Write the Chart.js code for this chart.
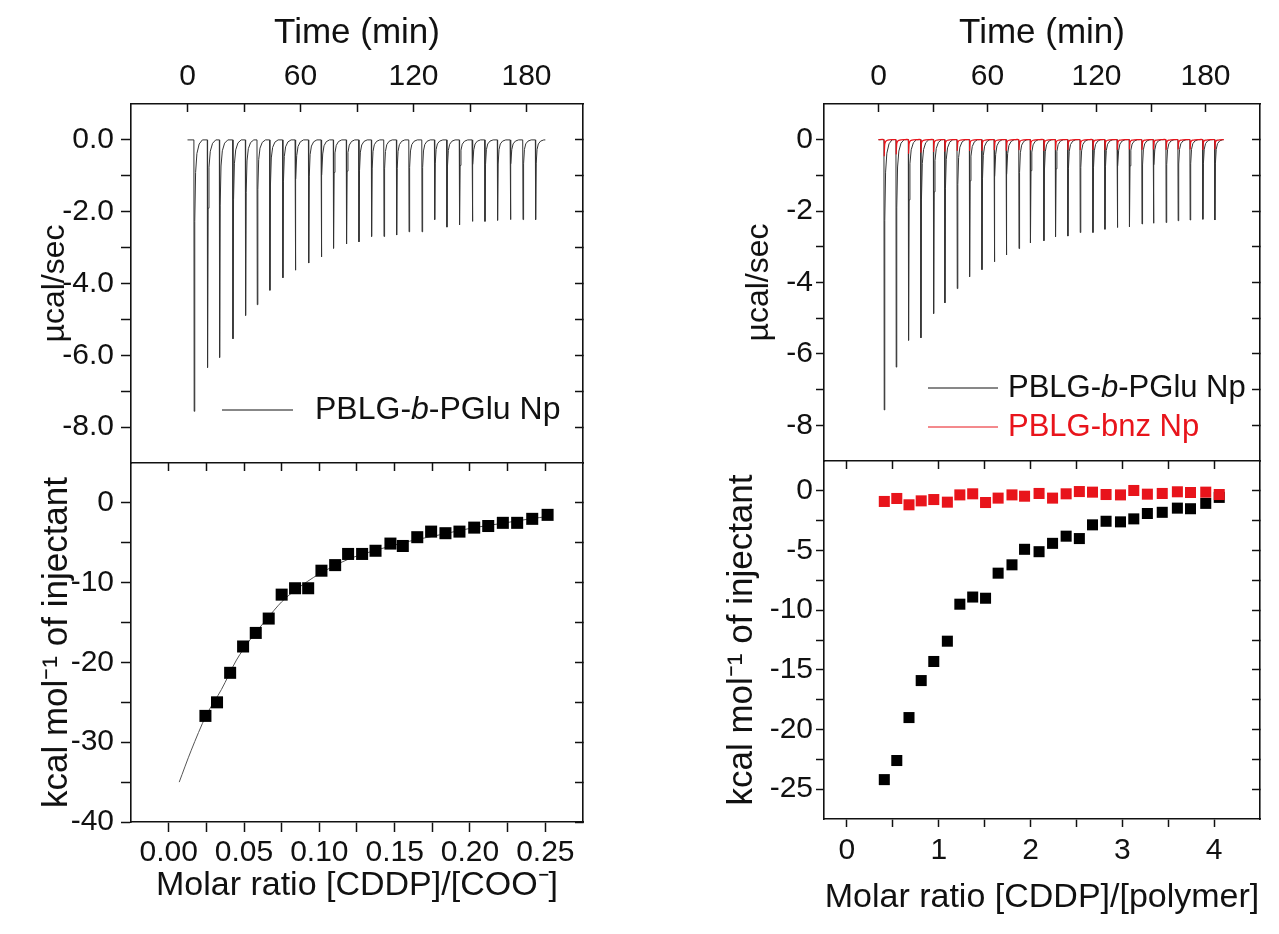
<!DOCTYPE html>
<html lang="en">
<head>
<meta charset="utf-8">
<title>ITC - PBLG-b-PGlu Np / PBLG-bnz Np</title>
<script src="https://cdn.jsdelivr.net/npm/chart.js@4.4.1/dist/chart.umd.min.js"></script>
<style>
    html, body { margin: 0; padding: 0; background: #fff; }
    #figure { position: relative; width: 1279px; height: 934px; overflow: hidden; }
    #figure canvas { position: absolute; left: 0; top: 0; }
</style>
</head>
<body>
<div id="figure">
    <canvas id="gauche-haut" width="1279" height="934"></canvas>
    <canvas id="gauche-bas" width="1279" height="934"></canvas>
    <canvas id="droite-haut" width="1279" height="934"></canvas>
    <canvas id="droite-bas" width="1279" height="934"></canvas>
</div>
<script>
// Données (ITC, CDDP injecté dans les nanoparticules)

// --- Thermogramme gauche : PBLG-b-PGlu Np ---
const leftInjTimes = [3.4, 10.5, 16.9, 24.0, 30.7, 36.9, 43.6, 50.5, 57.1, 64.2, 70.9, 77.4, 84.3, 90.9,
    97.6, 104.2, 110.9, 117.5, 124.4, 131.1, 137.6, 144.3, 151.1, 157.8, 164.5, 171.3, 178.0, 184.7];
const leftPeaks = [-7.56, -6.34, -6.06, -5.54, -4.89, -4.59, -4.19, -3.84, -3.63, -3.43, -3.26, -3.02, -2.90, -2.84,
    -2.69, -2.69, -2.65, -2.56, -2.56, -2.22, -2.43, -2.37, -2.27, -2.27, -2.24, -2.22, -2.22, -2.22];

// --- Thermogrammes droite ---
const rightInjTimes = [3.0, 9.6, 16.4, 23.2, 30.2, 36.4, 43.2, 50.0, 56.8, 63.6, 70.2, 77.2, 83.5, 90.9,
    97.3, 104.1, 110.9, 117.9, 124.5, 131.3, 138.0, 144.9, 151.2, 158.2, 164.8, 171.4, 178.4, 185.0];
const rightPeaks = [-7.57, -6.37, -5.62, -5.55, -4.87, -4.57, -4.17, -3.84, -3.64, -3.42, -3.23, -3.05, -2.89, -2.83,
    -2.72, -2.70, -2.60, -2.60, -2.51, -2.46, -2.44, -2.36, -2.34, -2.32, -2.27, -2.25, -2.23, -2.25];
const redPeaks = [-0.45, -0.40, -0.38, -0.35, -0.33, -0.32, -0.30, -0.30, -0.30, -0.28, -0.30, -0.28, -0.28, -0.30,
    -0.28, -0.27, -0.28, -0.27, -0.28, -0.27, -0.26, -0.27, -0.26, -0.27, -0.26, -0.26, -0.27, -0.26];

// Forme d'un pic d'injection (décalage en min, fraction du pic)
const spikeOffsets = [0, 0.15, 0.45, 0.9, 1.6, 2.8, 4.5];
const spikeShape = [0, 1, 0.3, 0.12, 0.05, 0.015, 0];

// --- Chaleurs intégrées gauche ---
const leftMolarRatio = [0.0244, 0.0321, 0.0408, 0.0494, 0.0578, 0.0664, 0.0750, 0.0839, 0.0926, 0.1014, 0.1105,
    0.1191, 0.1284, 0.1373, 0.1472, 0.1554, 0.1650, 0.1742, 0.1837, 0.1930, 0.2028, 0.2121, 0.2218, 0.2313,
    0.2413, 0.2515];
const leftHeat = [-26.7, -25.0, -21.3, -18.0, -16.3, -14.5, -11.5, -10.7, -10.7, -8.5, -7.8, -6.4, -6.4, -6.0,
    -5.1, -5.4, -4.3, -3.6, -3.8, -3.6, -3.1, -2.9, -2.5, -2.5, -2.0, -1.5];
const fitX = [0.007, 0.015, 0.025, 0.035, 0.045, 0.055, 0.065, 0.075, 0.085, 0.100, 0.120, 0.140, 0.160,
    0.180, 0.200, 0.220, 0.240, 0.252];
const fitY = [-35.0, -31.0, -26.6, -23.4, -19.7, -16.9, -14.6, -12.4, -10.8, -8.9, -7.0, -5.8, -4.8,
    -4.0, -3.2, -2.6, -2.0, -1.7];

// --- Chaleurs intégrées droite ---
const rightMolarRatio = [0.407, 0.543, 0.676, 0.809, 0.946, 1.094, 1.230, 1.370, 1.510, 1.647, 1.798, 1.935,
    2.093, 2.240, 2.388, 2.532, 2.675, 2.823, 2.980, 3.125, 3.273, 3.435, 3.600, 3.743, 3.909, 4.056];
const rightBlackHeat = [-24.2, -22.6, -19.0, -15.9, -14.3, -12.6, -9.5, -8.9, -9.0, -6.9, -6.2, -4.9, -5.1,
    -4.4, -3.8, -4.0, -2.85, -2.55, -2.6, -2.35, -1.9, -1.8, -1.45, -1.5, -1.05, -0.55];
const rightRedHeat = [-0.89, -0.64, -1.17, -0.84, -0.73, -0.95, -0.34, -0.25, -0.98, -0.61, -0.34, -0.45, -0.22,
    -0.61, -0.25, -0.06, -0.11, -0.31, -0.34, 0.03, -0.28, -0.22, -0.08, -0.14, -0.11, -0.31];

// --- Graduations ---
const timeTicks = [0, 30, 60, 90, 120, 150, 180];
const timeLabels = [0, 60, 120, 180];
const powerTicks = [-8, -7, -6, -5, -4, -3, -2, -1, 0];
const powerLabels = [-8, -6, -4, -2, 0];
const leftRatioTicks = [0, 0.025, 0.05, 0.075, 0.1, 0.125, 0.15, 0.175, 0.2, 0.225, 0.25];
const leftRatioLabels = [0, 0.05, 0.1, 0.15, 0.2, 0.25];
const leftHeatTicks = [-40, -35, -30, -25, -20, -15, -10, -5, 0];
const leftHeatLabels = [-40, -30, -20, -10, 0];
const rightRatioTicks = [0, 0.5, 1, 1.5, 2, 2.5, 3, 3.5, 4];
const rightRatioLabels = [0, 1, 2, 3, 4];
const rightHeatTicks = [-25, -22.5, -20, -17.5, -15, -12.5, -10, -7.5, -5, -2.5, 0];
const rightHeatLabels = [-25, -20, -15, -10, -5, 0];

const FONT = "'Liberation Sans', Arial, Helvetica, sans-serif";
const INK = '#111';
const RED = '#e8141b';
const TICK_SIZE = 30;

/**
 * Construit la courbe du thermogramme à partir des pics lus
 */
function buildThermogram(times, peaks, endTime) {
    const pts = [{ x: 0, y: 0 }];
    times.forEach((t, i) => {
        spikeOffsets.forEach((dt, k) => pts.push({ x: t + dt, y: peaks[i] * spikeShape[k] }));
    });
    pts.push({ x: endTime, y: 0 });
    return pts;
}

function toPoints(xs, ys) {
    return xs.map((x, i) => ({ x: x, y: ys[i] }));
}

/**
 * Axe linéaire façon Origin (cadre, graduations, étiquettes majeures seulement)
 */
function makeAxis(cfg) {
    const labels = cfg.labels || [];
    const horizontal = cfg.position === 'top' || cfg.position === 'bottom';
    return {
        type: 'linear',
        position: cfg.position,
        min: cfg.min,
        max: cfg.max,
        display: true,
        afterBuildTicks: scale => { scale.ticks = cfg.ticks.map(v => ({ value: v })); },
        afterFit: scale => {
            if (horizontal) scale.height = cfg.size;
            else scale.width = cfg.size;
        },
        grid: {
            display: true,
            drawOnChartArea: false,
            drawTicks: true,
            tickLength: cfg.tickLength,
            tickColor: INK,
            tickWidth: 1.5
        },
        border: { display: true, color: INK, width: 1.6 },
        ticks: {
            display: labels.length > 0,
            autoSkip: false,
            maxRotation: 0,
            padding: cfg.labelPad || 0,
            color: INK,
            font: { family: FONT, size: TICK_SIZE },
            callback: v => labels.some(l => Math.abs(l - v) < 1e-9) ? cfg.format(v) : ''
        },
        title: cfg.title ? {
            display: true,
            text: cfg.title,
            color: INK,
            font: { family: FONT, size: cfg.titleSize },
            padding: { top: cfg.titlePad, bottom: cfg.titlePad }
        } : { display: false }
    };
}

/**
 * Légende dessinée dans la zone du graphique (b en italique)
 */
function makeInsideLegend(items) {
    return {
        id: 'insideLegend',
        afterDraw(chart) {
            const ctx = chart.ctx;
            const area = chart.chartArea;
            items.forEach(item => {
                const y = area.bottom - item.dy;
                ctx.save();
                ctx.strokeStyle = item.color;
                ctx.lineWidth = 1;
                ctx.beginPath();
                ctx.moveTo(area.left + item.line[0], y);
                ctx.lineTo(area.left + item.line[1], y);
                ctx.stroke();
                ctx.fillStyle = item.color;
                ctx.textBaseline = 'middle';
                let x = area.left + item.textX;
                item.parts.forEach(p => {
                    ctx.font = (p.italic ? 'italic ' : '') + item.size + 'px ' + FONT;
                    ctx.fillText(p.text, x, y);
                    x += ctx.measureText(p.text).width;
                });
                ctx.restore();
            });
        }
    };
}

function baseOptions(padding, scales) {
    return {
        responsive: false,
        animation: false,
        events: [],
        devicePixelRatio: 1,
        layout: { padding: padding },
        plugins: { legend: { display: false }, tooltip: { enabled: false } },
        scales: scales
    };
}

const fmt1 = v => v.toFixed(1);
const fmt2 = v => v.toFixed(2);
const fmt0 = v => String(Math.round(v));

// ---------- Gauche, haut : thermogramme ----------
new Chart(document.getElementById('gauche-haut'), {
    type: 'scatter',
    data: {
        datasets: [{
            data: buildThermogram(leftInjTimes, leftPeaks, 190),
            showLine: true,
            borderColor: '#333',
            borderWidth: 1,
            pointRadius: 0,
            tension: 0
        }]
    },
    options: baseOptions({ left: 0, top: 0, right: 1279 - 583, bottom: 934 - 463 }, {
        x: makeAxis({ position: 'top', min: -30, max: 210, ticks: timeTicks, labels: timeLabels, format: fmt0,
            tickLength: -8, labelPad: 17, size: 104, title: 'Time (min)', titleSize: 35, titlePad: 12 }),
        y: makeAxis({ position: 'left', min: -9, max: 1, ticks: powerTicks, labels: powerLabels, format: fmt1,
            tickLength: 10, labelPad: 7, size: 131, title: 'µcal/sec', titleSize: 32, titlePad: 36 }),
        yRight: makeAxis({ position: 'right', min: -9, max: 1, ticks: powerTicks, tickLength: -8, size: 0 })
    }),
    plugins: [makeInsideLegend([
        { color: INK, dy: 53, line: [91, 162], textX: 184, size: 32,
          parts: [{ text: 'PBLG-' }, { text: 'b', italic: true }, { text: '-PGlu Np' }] }
    ])]
});

// ---------- Gauche, bas : chaleurs intégrées ----------
new Chart(document.getElementById('gauche-bas'), {
    type: 'scatter',
    data: {
        datasets: [{
            data: toPoints(leftMolarRatio, leftHeat),
            pointStyle: 'rect',
            pointRadius: 8.5,
            backgroundColor: '#000',
            borderColor: '#000',
            borderWidth: 0,
            order: 0
        }, {
            data: toPoints(fitX, fitY),
            showLine: true,
            borderColor: '#555',
            borderWidth: 1,
            pointRadius: 0,
            tension: 0.3,
            order: 1
        }]
    },
    options: baseOptions({ left: 0, top: 463, right: 1279 - 583, bottom: 0 }, {
        x: makeAxis({ position: 'bottom', min: -0.025, max: 0.275, ticks: leftRatioTicks, labels: leftRatioLabels,
            format: fmt2, tickLength: 10, labelPad: 3, size: 934 - 822,
            title: 'Molar ratio [CDDP]/[COO⁻]', titleSize: 34, titlePad: 28 }),
        xTop: makeAxis({ position: 'top', min: -0.025, max: 0.275, ticks: leftRatioTicks, tickLength: -8, size: 0 }),
        y: makeAxis({ position: 'left', min: -40, max: 5, ticks: leftHeatTicks, labels: leftHeatLabels, format: fmt0,
            tickLength: 10, labelPad: 7, size: 131, title: 'kcal mol⁻¹ of injectant', titleSize: 35, titlePad: 36 }),
        yRight: makeAxis({ position: 'right', min: -40, max: 5, ticks: leftHeatTicks, tickLength: -8, size: 0 })
    })
});

// ---------- Droite, haut : thermogrammes ----------
new Chart(document.getElementById('droite-haut'), {
    type: 'scatter',
    data: {
        datasets: [{
            data: buildThermogram(rightInjTimes, rightPeaks, 190),
            showLine: true,
            borderColor: '#333',
            borderWidth: 1,
            pointRadius: 0,
            tension: 0,
            order: 1
        }, {
            data: buildThermogram(rightInjTimes, redPeaks, 190),
            showLine: true,
            borderColor: RED,
            borderWidth: 1.2,
            pointRadius: 0,
            tension: 0.2,
            order: 0
        }]
    },
    options: baseOptions({ left: 824 - 110, top: 0, right: 1279 - 1260, bottom: 934 - 461 }, {
        x: makeAxis({ position: 'top', min: -30, max: 210, ticks: timeTicks, labels: timeLabels, format: fmt0,
            tickLength: -8, labelPad: 17, size: 104, title: 'Time (min)', titleSize: 35, titlePad: 12 }),
        y: makeAxis({ position: 'left', min: -9, max: 1, ticks: powerTicks, labels: powerLabels, format: fmt0,
            tickLength: 8, labelPad: 3, size: 110, title: 'µcal/sec', titleSize: 32, titlePad: 26 }),
        yRight: makeAxis({ position: 'right', min: -9, max: 1, ticks: powerTicks, tickLength: -8, size: 0 })
    }),
    plugins: [makeInsideLegend([
        { color: INK, dy: 73, line: [104, 174], textX: 184, size: 31,
          parts: [{ text: 'PBLG-' }, { text: 'b', italic: true }, { text: '-PGlu Np' }] },
        { color: RED, dy: 34, line: [104, 174], textX: 184, size: 31,
          parts: [{ text: 'PBLG-bnz Np' }] }
    ])]
});

// ---------- Droite, bas : chaleurs intégrées ----------
new Chart(document.getElementById('droite-bas'), {
    type: 'scatter',
    data: {
        datasets: [{
            data: toPoints(rightMolarRatio, rightBlackHeat),
            pointStyle: 'rect',
            pointRadius: 7.8,
            backgroundColor: '#000',
            borderWidth: 0,
            order: 1
        }, {
            data: toPoints(rightMolarRatio, rightRedHeat),
            pointStyle: 'rect',
            pointRadius: 7.8,
            backgroundColor: RED,
            borderWidth: 0,
            order: 0
        }]
    },
    options: baseOptions({ left: 824 - 110, top: 461, right: 1279 - 1260, bottom: 0 }, {
        x: makeAxis({ position: 'bottom', min: -0.25, max: 4.5, ticks: rightRatioTicks, labels: rightRatioLabels,
            format: fmt0, tickLength: 8, labelPad: 6, size: 934 - 819,
            title: 'Molar ratio [CDDP]/[polymer]', titleSize: 34, titlePad: 16 }),
        xTop: makeAxis({ position: 'top', min: -0.25, max: 4.5, ticks: rightRatioTicks, tickLength: -8, size: 0 }),
        y: makeAxis({ position: 'left', min: -27.5, max: 2.5, ticks: rightHeatTicks, labels: rightHeatLabels,
            format: fmt0, tickLength: 8, labelPad: 3, size: 110,
            title: 'kcal mol⁻¹ of injectant', titleSize: 35, titlePad: 7 }),
        yRight: makeAxis({ position: 'right', min: -27.5, max: 2.5, ticks: rightHeatTicks, tickLength: -8, size: 0 })
    })
});
</script>
</body>
</html>
